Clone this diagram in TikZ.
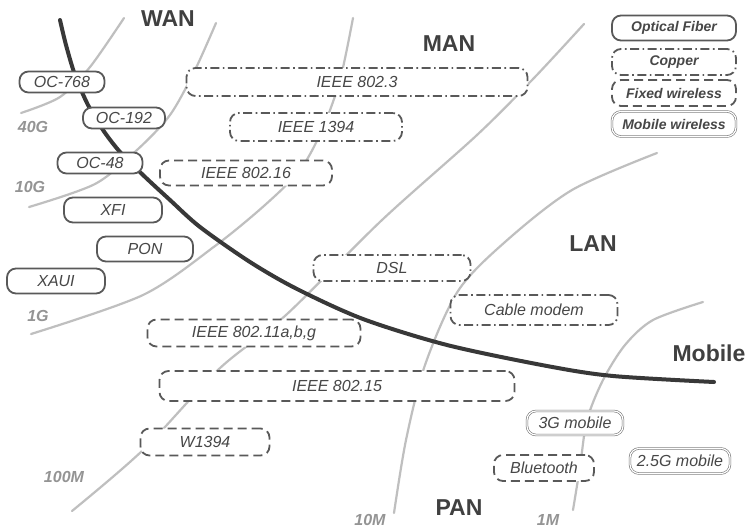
\documentclass[tikz,border=0pt]{standalone}
\usepackage{fontspec}
\setmainfont{Liberation Sans}
\begin{document}
\begin{tikzpicture}[x=1pt,y=-1pt,
  grayline/.style={draw=black!25, line width=2.2pt, line cap=round},
  bound/.style={draw=black!78, line width=4pt, line cap=round},
  tbox/.style={rounded corners=9pt, fill=white, line width=1.8pt, draw=black!65, inner sep=0pt, font=\fontsize{16}{18}\selectfont\itshape, text=black!72},
  fiber/.style={tbox},
  copper/.style={tbox, dash pattern=on 9pt off 3.5pt on 1.6pt off 3.5pt},
  fixedw/.style={tbox, dash pattern=on 9pt off 5pt},
  mobilew/.style={tbox, draw=black!55, line width=0.6pt, double=white, double distance=1.2pt},
  legendtxt/.style={font=\fontsize{14}{16}\selectfont\bfseries\itshape},
  region/.style={font=\fontsize{23}{26}\selectfont\bfseries, text=black!75},
  speed/.style={font=\fontsize{16}{18}\selectfont\bfseries\itshape, text=black!42},
]
\fill[white] (0,0) rectangle (748,531);
\useasboundingbox (0,0) rectangle (748,531);

% speed boundary lines
\draw[grayline] plot[smooth] coordinates {(21,113) (60,97) (90,67) (124,18)};
\draw[grayline] plot[smooth] coordinates {(29,207) (95,184) (137,150) (170,115) (195,70) (216,23)};
\draw[grayline] plot[smooth] coordinates {(31,334) (143,295) (215,246) (265,205) (300,170) (322,130) (340,80) (353,18)};
\draw[grayline] plot[smooth] coordinates {(72,511) (143,450) (219,369) (286,315) (382,220) (477,135) (534,78) (584,24)};
\draw[grayline] plot[smooth] coordinates {(394,513) (406,440) (425,365) (458,291) (505,242) (572,190) (657,153)};
\draw[grayline] plot[smooth] coordinates {(573,510) (580,467) (587,420) (603,380) (625,345) (653,320) (703,302)};

% mobile boundary
\draw[bound] plot[smooth] coordinates {(60,20) (66,45) (75,75) (88,105) (103,130) (120,152) (143,175) (170,200) (200,227) (250,262) (297,289) (363,319) (447,345) (547,366) (613,376) (714,382)};

% optical fiber
\node[fiber, minimum width=85pt, minimum height=21pt] (oc768) at (62,82) {OC-768};
\node[fiber, minimum width=82pt, minimum height=21pt] (oc192) at (124,118) {OC-192};
\node[fiber, minimum width=85pt, minimum height=21pt] (oc48) at (100,163) {OC-48};
\node[fiber, minimum width=98pt, minimum height=25pt] (xfi) at (113,210) {XFI};
\node[fiber, minimum width=96pt, minimum height=25pt] (pon) at (145,249) {PON};
\node[fiber, minimum width=98pt, minimum height=25pt] (xaui) at (56,281) {XAUI};

% copper
\node[copper, minimum width=341pt, minimum height=28pt] (ieee8023) at (357,82) {IEEE 802.3};
\node[copper, minimum width=172pt, minimum height=28pt] (ieee1394) at (316,127) {IEEE 1394};
\node[copper, minimum width=157pt, minimum height=26pt] (dsl) at (392,268) {DSL};
\node[copper, minimum width=167pt, minimum height=30pt] (cable) at (534,310) {Cable modem};

% fixed wireless
\node[fixedw, minimum width=172pt, minimum height=25pt] (ieee80216) at (246,173) {IEEE 802.16};
\node[fixedw, minimum width=213pt, minimum height=27pt] (ieee80211) at (254,333) {IEEE 802.11a,b,g};
\node[fixedw, minimum width=355pt, minimum height=30pt] (ieee80215) at (337,386) {IEEE 802.15};
\node[fixedw, minimum width=129pt, minimum height=27pt] (w1394) at (205,442) {W1394};
\node[fixedw, minimum width=100pt, minimum height=26pt] (bt) at (544,468) {Bluetooth};

% mobile wireless
\node[mobilew, minimum width=96pt, minimum height=24pt] (g3) at (575,423) {3G mobile};
\node[mobilew, minimum width=100pt, minimum height=25pt] (g25) at (680,461) {2.5G mobile};

% legend
\node[fiber, legendtxt, minimum width=124pt, minimum height=25pt] (lfiber) at (674,28) {Optical Fiber};
\node[copper, legendtxt, minimum width=124pt, minimum height=26pt] (lcopper) at (674,62) {Copper};
\node[fixedw, legendtxt, minimum width=124pt, minimum height=26pt] (lfixed) at (674,93) {Fixed wireless};
\node[mobilew, legendtxt, minimum width=124pt, minimum height=25pt] (lmobile) at (674,124) {Mobile wireless};

% region labels
\node[region] (wan) at (168,19) {WAN};
\node[region] (man) at (449,44) {MAN};
\node[region] (lan) at (593,244) {LAN};
\node[region] (mob) at (709,353) {Mobile};
\node[region] (pan) at (459,508) {PAN};

% speed labels
\node[speed] (s40g) at (33,127) {40G};
\node[speed] (s10g) at (30,187) {10G};
\node[speed] (s1g) at (38,316) {1G};
\node[speed] (s100m) at (64,477) {100M};
\node[speed] (s10m) at (370,520) {10M};
\node[speed] (s1m) at (548,520) {1M};
\end{tikzpicture}
\end{document}
